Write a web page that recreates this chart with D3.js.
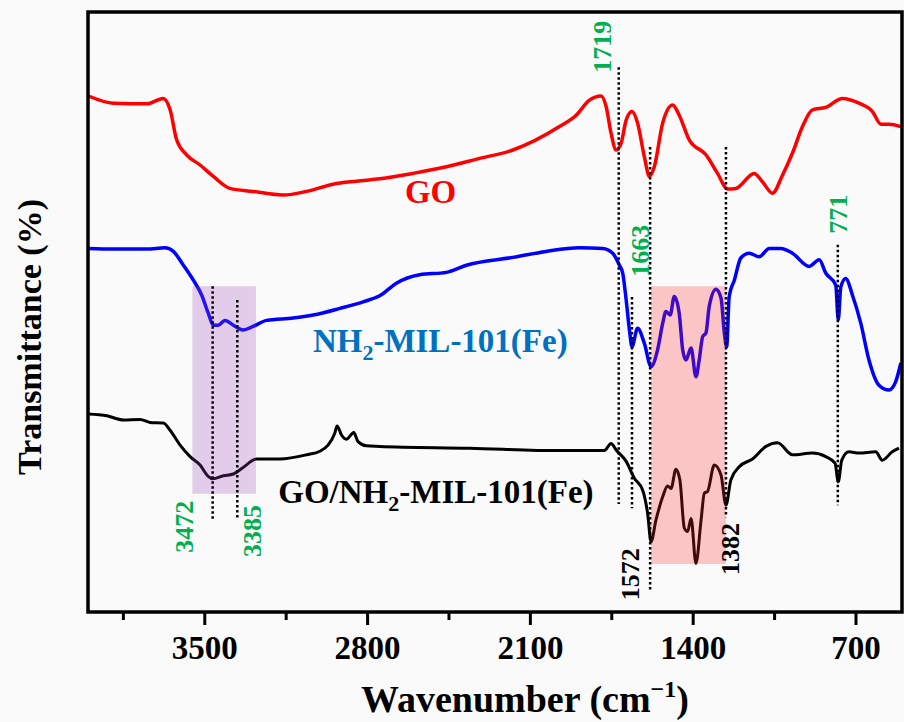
<!doctype html>
<html>
<head>
<meta charset="utf-8">
<title>FTIR spectra</title>
<script src="https://d3js.org/d3.v7.min.js"></script>
<style>
  body { margin:0; background:#fafafa; }
  text { font-family:"Liberation Serif","Times New Roman",serif; font-weight:bold; }
</style>
</head>
<body>
<svg></svg>
<script>
let w = 904, h = 722;
let plotL = 88, plotR = 902, plotT = 12, plotB = 612;

// wavenumber (cm-1) / transmittance (arbitrary units, curves offset)
let goWn = [3998, 3891, 3747, 3676, 3647, 3619, 3576, 3518, 3461, 3390, 3290, 3161, 3060, 2946, 2846, 2746, 2603, 2459, 2316, 2173, 1973, 1901, 1844, 1794, 1772, 1751, 1729, 1708, 1686, 1661, 1637, 1608, 1586, 1565, 1529, 1486, 1458, 1415, 1343, 1293, 1250, 1214, 1136, 1100, 1057, 1014, 971, 928, 885, 828, 756, 685, 627, 591, 556, 505];
let goT = [86.0, 84.8, 84.7, 85.6, 83.7, 78.7, 76.2, 74.5, 72.6, 70.6, 70.1, 69.5, 70.1, 71.3, 71.8, 72.2, 73.1, 74.2, 75.6, 77.0, 80.9, 82.8, 85.3, 86.0, 84.2, 79.8, 77.0, 78.1, 82.0, 83.4, 81.5, 75.9, 72.6, 74.2, 81.5, 84.5, 82.8, 78.7, 76.2, 73.1, 70.5, 70.6, 73.1, 71.7, 69.8, 72.8, 76.5, 80.9, 83.7, 84.1, 85.6, 84.8, 83.4, 81.3, 81.3, 80.9];

let mofWn = [3998, 3891, 3747, 3669, 3633, 3590, 3547, 3511, 3483, 3461, 3440, 3411, 3375, 3333, 3290, 3232, 3118, 3032, 2917, 2817, 2746, 2674, 2574, 2459, 2373, 2173, 2030, 1887, 1787, 1744, 1715, 1701, 1686, 1672, 1661, 1637, 1608, 1579, 1551, 1529, 1515, 1497, 1479, 1458, 1443, 1429, 1407, 1386, 1372, 1357, 1343, 1329, 1300, 1278, 1264, 1254, 1243, 1221, 1193, 1157, 1114, 1071, 1021, 971, 899, 856, 828, 785, 774, 763, 742, 713, 677, 642, 599, 556, 527, 505];
let mofT = [60.6, 60.5, 60.5, 60.7, 60.1, 57.8, 55.3, 52.8, 49.8, 47.8, 47.8, 48.6, 47.8, 47.0, 47.6, 48.6, 49.0, 49.5, 50.6, 51.7, 52.7, 54.8, 56.2, 56.6, 57.8, 59.1, 60.1, 60.7, 60.6, 59.8, 57.8, 56.5, 52.0, 47.0, 44.2, 47.3, 44.8, 40.9, 43.7, 48.1, 50.1, 49.5, 52.6, 49.8, 43.7, 42.0, 44.0, 39.2, 42.0, 45.9, 46.5, 50.9, 53.8, 52.3, 46.5, 44.2, 52.6, 55.3, 59.0, 59.8, 59.2, 60.6, 60.6, 59.8, 57.6, 58.7, 56.5, 54.5, 48.7, 54.2, 55.6, 52.8, 48.1, 42.0, 37.8, 37.0, 38.4, 41.5];

let compWn = [3998, 3919, 3848, 3776, 3733, 3676, 3647, 3604, 3561, 3518, 3483, 3464, 3418, 3375, 3333, 3275, 3175, 3060, 3003, 2968, 2939, 2929, 2910, 2889, 2857, 2839, 2803, 2746, 2359, 1973, 1780, 1751, 1729, 1686, 1651, 1615, 1594, 1579, 1558, 1529, 1508, 1493, 1472, 1455, 1436, 1422, 1407, 1386, 1364, 1350, 1336, 1307, 1278, 1257, 1236, 1200, 1143, 1085, 1035, 971, 885, 828, 788, 774, 759, 728, 685, 613, 585, 542, 513];
let compT = [33.0, 32.7, 32.0, 32.1, 31.6, 31.5, 30.3, 27.8, 25.9, 24.5, 22.6, 22.2, 22.7, 23.0, 24.1, 25.5, 25.5, 26.2, 26.8, 27.8, 29.8, 31.0, 29.5, 28.8, 29.9, 28.4, 27.7, 27.6, 27.3, 26.9, 26.9, 28.1, 27.0, 25.1, 22.3, 20.3, 16.5, 11.7, 15.3, 19.2, 21.0, 20.6, 23.8, 22.0, 14.0, 13.4, 15.6, 8.1, 15.3, 19.8, 20.1, 24.5, 22.8, 17.8, 22.0, 24.2, 25.5, 27.6, 28.2, 26.2, 26.5, 25.9, 24.8, 21.7, 25.3, 26.7, 26.5, 26.7, 25.3, 26.7, 27.3];

let xTicks = [3500, 2800, 2100, 1400, 700];
let xMinor = [3850, 3150, 2450, 1750, 1050];

// marked peaks: dotted line at peakWn from peakTop to peakBottom, label anchored at labelWn/labelT
let peakText = ['1719', '1663', '1572', '1382', '771', '3472', '3385'];
let peakWn = [1718, 1661, 1583, 1257, 776, 3464, 3358];
let peakTop = [90.8, 52.5, 77.5, 77.5, 61.2, 54.3, 52.0];
let peakBottom = [18.0, 17.3, 3.7, 15.8, 17.8, 15.3, 15.7];
let labelWn = [1752, 1586, 1629, 1200, 736, 3549, 3254];
let labelT = [94.2, 60.2, 6.3, 10.5, 66.3, 14.2, 13.5];

// shaded bands [from, to] in cm-1 and T range
let bandWn = [[3551, 3278], [1579, 1257]];
let bandT = [[54.3, 19.7], [54.3, 8.0]];

let svg = d3.select('svg')
            .attr('width', w)
            .attr('height', h);

let x = d3.scaleLinear()
          .domain([4000, 500])
          .range([plotL, plotR]);
let y = d3.scaleLinear()
          .domain([0, 100])
          .range([plotB, plotT]);

let line = d3.line()
             .x(function(d) { return x(d[0]); })
             .y(function(d) { return y(d[1]); })
             .curve(d3.curveMonotoneX);

let series = [
    {wn: goWn, t: goT, color: '#ff0000', width: 3.5},
    {wn: mofWn, t: mofT, color: '#0000ff', width: 3.5},
    {wn: compWn, t: compT, color: '#000000', width: 3}
];

svg.selectAll('path.curve')
   .data(series)
   .enter()
   .append('path')
   .attr('class', 'curve')
   .attr('fill', 'none')
   .attr('stroke', function(d) { return d.color; })
   .attr('stroke-width', function(d) { return d.width; })
   .attr('stroke-linejoin', 'round')
   .attr('d', function(d) { return line(d3.zip(d.wn, d.t)); });

// translucent bands go over the curves
let bandFill = ['rgb(154,66,186)', 'rgb(255,40,40)'];
svg.selectAll('rect.band')
   .data(bandWn)
   .enter()
   .append('rect')
   .attr('class', 'band')
   .attr('x', function(d) { return x(d[0]); })
   .attr('width', function(d) { return x(d[1]) - x(d[0]); })
   .attr('y', function(d, i) { return y(bandT[i][0]); })
   .attr('height', function(d, i) { return y(bandT[i][1]) - y(bandT[i][0]); })
   .attr('fill', function(d, i) { return bandFill[i]; })
   .attr('fill-opacity', 0.25);

svg.selectAll('line.peak')
   .data(peakWn)
   .enter()
   .append('line')
   .attr('class', 'peak')
   .attr('x1', function(d) { return x(d); })
   .attr('x2', function(d) { return x(d); })
   .attr('y1', function(d, i) { return y(peakTop[i]); })
   .attr('y2', function(d, i) { return y(peakBottom[i]); })
   .attr('stroke', '#000')
   .attr('stroke-width', 2.5)
   .attr('stroke-dasharray', '2.5,2.5');

svg.selectAll('text.peak')
   .data(peakText)
   .enter()
   .append('text')
   .attr('class', 'peak')
   .attr('transform', function(d, i) {
       return 'translate(' + x(labelWn[i]) + ',' + y(labelT[i]) + ') rotate(-90)';
   })
   .attr('text-anchor', 'middle')
   .style('font-size', '26px')
   .attr('fill', function(d) { return (d == '1572' || d == '1382') ? '#000' : '#00b050'; })
   .text(function(d) { return d; });

// curve names
let name1 = svg.append('text')
               .attr('x', x(2527)).attr('y', y(68.2))
               .attr('text-anchor', 'middle')
               .attr('fill', '#ff0000')
               .style('font-size', '33px')
               .text('GO');

function mofName(sel, prefix) {
    sel.append('tspan').text(prefix + 'NH');
    sel.append('tspan').attr('dy', 8).style('font-size', '22px').text('2');
    sel.append('tspan').attr('dy', -8).text('-MIL-101(Fe)');
}
let name2 = svg.append('text')
               .attr('x', x(3033)).attr('y', y(43.3))
               .attr('fill', '#0070c0')
               .style('font-size', '33px');
mofName(name2, '');
let name3 = svg.append('text')
               .attr('x', x(3182)).attr('y', y(18.2))
               .attr('fill', '#000')
               .style('font-size', '33px');
mofName(name3, 'GO/');

// frame and axis
svg.append('rect')
   .attr('x', plotL).attr('y', plotT)
   .attr('width', plotR - plotL).attr('height', plotB - plotT)
   .attr('fill', 'none')
   .attr('stroke', '#000')
   .attr('stroke-width', 3.5);

let xAxis = svg.append('g')
               .attr('transform', 'translate(0,' + plotB + ')')
               .call(d3.axisBottom(x).tickValues(xTicks).tickSize(13).tickPadding(11).tickFormat(d3.format('d')));
xAxis.select('.domain').remove();
xAxis.selectAll('line').attr('stroke-width', 3);
xAxis.selectAll('text').style('font-size', '33px').attr('fill', '#000');

let xAxisMinor = svg.append('g')
                    .attr('transform', 'translate(0,' + plotB + ')')
                    .call(d3.axisBottom(x).tickValues(xMinor).tickSize(8).tickFormat(''));
xAxisMinor.select('.domain').remove();
xAxisMinor.selectAll('line').attr('stroke-width', 3);

let xLabel = svg.append('text')
                .attr('x', 525).attr('y', 712)
                .attr('text-anchor', 'middle')
                .style('font-size', '38px');
xLabel.append('tspan').text('Wavenumber (cm');
xLabel.append('tspan').attr('dy', -15).style('font-size', '24px').text('\u22121');
xLabel.append('tspan').attr('dy', 15).text(')');

svg.append('text')
   .attr('transform', 'translate(41,337) rotate(-90)')
   .attr('text-anchor', 'middle')
   .style('font-size', '34px')
   .text('Transmittance (%)');
</script>
</body>
</html>
